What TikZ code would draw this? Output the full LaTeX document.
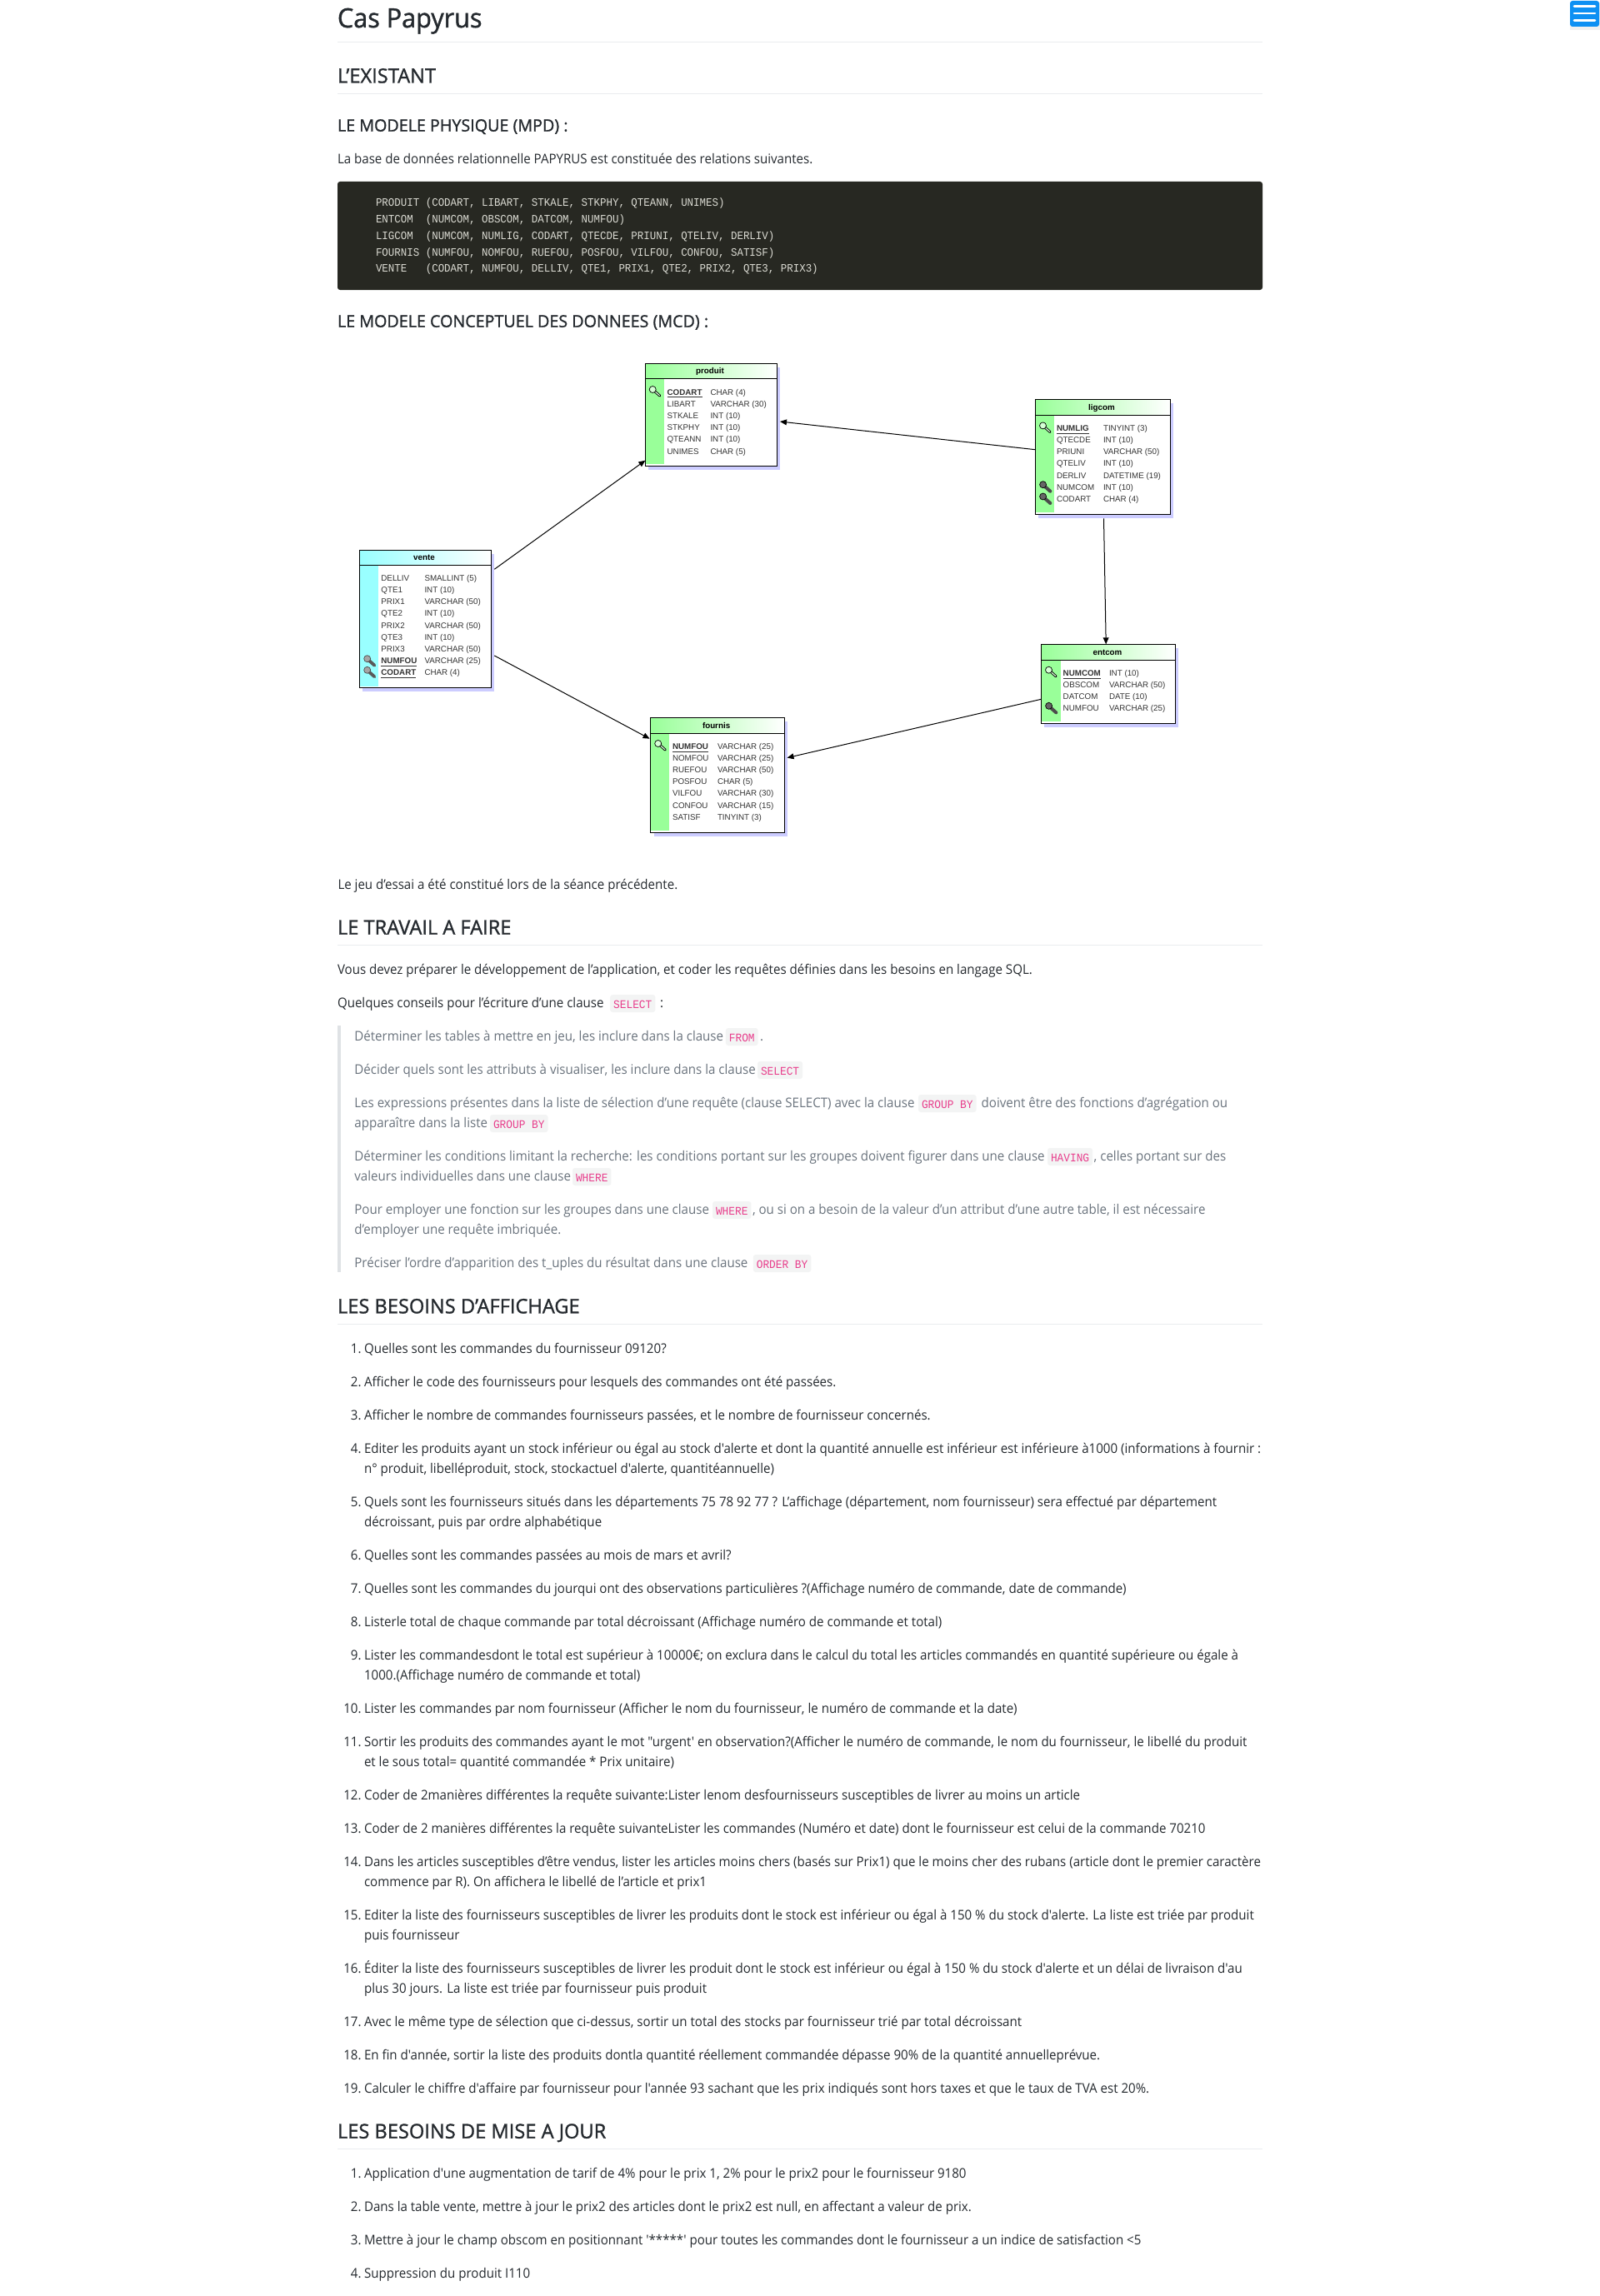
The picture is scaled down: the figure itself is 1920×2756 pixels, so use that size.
\documentclass[tikz,border=0pt]{standalone}
\usepackage{fontspec}
\usetikzlibrary{arrows.meta}
\newfontfamily\opf{Open Sans}[FakeStretch=0.943]
\newfontfamily\opfone{Open Sans}[FakeStretch=0.955,FakeBold=1.2]
\newfontfamily\opfm{Open Sans}[FakeStretch=0.985,FakeBold=1.2]
\newfontfamily\monf{Liberation Mono}[FakeStretch=0.916]
\newfontfamily\arf{Liberation Sans}
\definecolor{ink}{HTML}{24292E}
\definecolor{quoteink}{HTML}{6A737D}
\definecolor{rulegrey}{HTML}{EAECEF}
\definecolor{barbg}{HTML}{DFE2E5}
\definecolor{pinkcode}{HTML}{E83E8C}
\definecolor{pillbg}{HTML}{F3F4F4}
\definecolor{darkbox}{HTML}{272822}
\definecolor{codeink}{HTML}{DADAD2}
\definecolor{bandgreen}{HTML}{99FF99}
\definecolor{bandcyan}{HTML}{99FFFF}
\definecolor{shadowblue}{HTML}{CCCCFF}
\definecolor{burger}{HTML}{0D90F3}
\newcounter{tc}
\newcommand{\T}[4]{\stepcounter{tc}\node[#1] (t\arabic{tc}) at (#2,#3) {#4};}
\newcommand{\B}[3]{\T{bodytext}{#1}{#2}{#3}}
\newcommand{\Q}[3]{\T{quotetext}{#1}{#2}{#3}}
\newcommand{\Pl}[3]{\T{pill}{#1}{#2+1}{#3}}
\newcommand{\Li}[3]{\T{numtext}{433.6}{#2}{#1.}\T{bodytext}{437}{#2}{#3}}
\newcommand{\Lc}[2]{\T{bodytext}{437}{#1}{#2}}
\newcommand{\Hr}[1]{\draw[hrule] (405,#1) -- (1515,#1);}
\newcommand{\pk}[1]{\underline{\textbf{#1}}}
\newcommand{\Keyicon}[2]{%
  \begin{scope}[shift={(#1,#2)}]
    \draw[line width=1.5pt,draw=black,line cap=round] (4,4) -- (12.8,11.8);
    \draw[line width=0.6pt,draw=bandgreen!40!white,line cap=round] (5,5) -- (12.4,11.4);
    \filldraw[draw=black,line width=0.35pt,fill=bandgreen!40!white] (4.2,4.2) circle [radius=4];
  \end{scope}}
\newcommand{\Fkey}[2]{%
  \begin{scope}[shift={(#1,#2)}]
    \draw[line width=2pt,draw=black!70,line cap=round] (4,4) -- (13,12);
    \filldraw[draw=black,line width=0.35pt,fill=black!60] (4.3,4) circle [radius=4];
  \end{scope}}
\newcommand{\Gkey}[2]{%
  \begin{scope}[shift={(#1,#2)}]
    \draw[line width=1.9pt,draw=black!65,line cap=round] (4,4) -- (13,12);
    \filldraw[draw=black!70,line width=0.35pt,fill=black!35] (4.3,4) circle [radius=4];
  \end{scope}}
\newcommand{\Tbl}[9]{%
  \fill[shadowblue] (#2-#4+4,#3-#5+4.5) rectangle (#2+#4+3.5,#3+#5+4.5);
  \node[tablebox,minimum width=#4pt,minimum height=#5pt] (#1) at (#2,#3) {};
  \shade[left color=#9,right color=white] (#1.north west) rectangle ([shift={(0,#6)}]#1.north east);
  \fill[#9] ([shift={(0,#6)}]#1.north west) rectangle ([shift={(#7,-#8)}]#1.south west);
  \draw[tableline] (#1.north west) rectangle (#1.south east);
  \draw[tableline] ([shift={(0,#6)}]#1.north west) -- ([shift={(0,#6)}]#1.north east);}
\newcommand{\Rows}[5]{%
  \foreach \nm/\ty [count=\ri from 0] in {#5}{%
    \T{cellname}{#2}{#1+14.2*\ri}{\nm}\T{celltype}{#3}{#1+14.2*\ri}{\ty}}}
\tikzset{
  bodytext/.style={anchor=base west,inner sep=0pt,outer sep=0pt,text=ink,font=\opf\fontsize{8}{10}\selectfont},
  numtext/.style={anchor=base east,inner sep=0pt,outer sep=0pt,text=ink,font=\opf\fontsize{8}{10}\selectfont},
  quotetext/.style={anchor=base west,inner sep=0pt,outer sep=0pt,text=quoteink,font=\opf\fontsize{8}{10}\selectfont},
  hone/.style={anchor=base west,inner sep=0pt,outer sep=0pt,text=ink,font=\opfone\fontsize{16}{18}\selectfont},
  htwo/.style={anchor=base west,inner sep=0pt,outer sep=0pt,text=ink,font=\opfm\fontsize{12}{14}\selectfont},
  hthree/.style={anchor=base west,inner sep=0pt,outer sep=0pt,text=ink,font=\opfm\fontsize{10}{12}\selectfont},
  codetext/.style={anchor=base west,inner sep=0pt,outer sep=0pt,text=codeink,font=\monf\fontsize{6.8}{8}\selectfont},
  pill/.style={anchor=base west,fill=pillbg,rounded corners=1.5pt,inner xsep=2pt,inner ysep=0pt,outer sep=0pt,
    text height=8.15pt,text depth=2.35pt,text=pinkcode,font=\monf\fontsize{7}{8}\selectfont},
  hrule/.style={draw=rulegrey,line width=0.55pt},
  tablebox/.style={draw=black,fill=white,line width=0.45pt,inner sep=0pt,outer sep=0pt},
  tableline/.style={draw=black,line width=0.45pt},
  cellname/.style={anchor=base west,inner sep=0pt,outer sep=0pt,text=black!80,font=\arf\fontsize{4.9}{6}\selectfont},
  celltype/.style={anchor=base west,inner sep=0pt,outer sep=0pt,text=black!80,font=\arf\fontsize{4.9}{6}\selectfont},
  tabletitle/.style={anchor=base,inner sep=0pt,outer sep=0pt,text=black,font=\arf\bfseries\fontsize{4.9}{6}\selectfont},
  conn/.style={draw=black,line width=0.5pt,-{Triangle[length=4pt,width=3.4pt]}},
}
\begin{document}
\begin{tikzpicture}[x=0.5pt,y=-0.5pt]
\useasboundingbox (0,0) rectangle (1920,2756);
\fill[white] (0,0) rectangle (1920,2756);

% burger button
\fill[black!6] (1884,3) rectangle (1920,36);
\fill[burger,rounded corners=1.5pt] (1884,1) rectangle (1919,32);
\foreach \by in {7.3,16,24.7}{\draw[white,line width=1.3pt,line cap=round] (1889,\by) -- (1914,\by);}

% headings and top text
\T{hone}{405}{33}{Cas Papyrus}
\Hr{50.5}
\T{htwo}{405}{99.5}{L’EXISTANT}
\Hr{112.5}
\T{hthree}{405}{157.7}{LE MODELE PHYSIQUE (MPD) :}
\B{405}{196.4}{La base de données relationnelle PAPYRUS est constituée des relations suivantes.}
\fill[darkbox,rounded corners=1.5pt] (405,218) rectangle (1515,348);
\T{codetext}{451}{248}{PRODUIT (CODART, LIBART, STKALE, STKPHY, QTEANN, UNIMES)}
\T{codetext}{451}{267.7}{ENTCOM\ \ (NUMCOM, OBSCOM, DATCOM, NUMFOU)}
\T{codetext}{451}{287.4}{LIGCOM\ \ (NUMCOM, NUMLIG, CODART, QTECDE, PRIUNI, QTELIV, DERLIV)}
\T{codetext}{451}{307.1}{FOURNIS (NUMFOU, NOMFOU, RUEFOU, POSFOU, VILFOU, CONFOU, SATISF)}
\T{codetext}{451}{326.8}{VENTE\ \ \ (CODART, NUMFOU, DELLIV, QTE1, PRIX1, QTE2, PRIX2, QTE3, PRIX3)}
\T{hthree}{405}{392.7}{LE MODELE CONCEPTUEL DES DONNEES (MCD) :}

% tables
\Tbl{produit}{853.4}{498}{79}{61.3}{17.6}{22.6}{2.6}{bandgreen}
\T{tabletitle}{852}{448.7}{produit}
\Keyicon{779}{463.3}
\Rows{474}{800.6}{852.5}{}{\pk{CODART}/CHAR (4),LIBART/VARCHAR (30),STKALE/INT (10),STKPHY/INT (10),QTEANN/INT (10),UNIMES/CHAR (5)}

\Tbl{ligcom}{1323.35}{548.3}{81.05}{69}{19}{22.5}{2.3}{bandgreen}
\T{tabletitle}{1322}{492}{ligcom}
\Keyicon{1247.3}{506.7}
\Fkey{1247.3}{577.7}
\Fkey{1247.3}{592}
\Rows{517.3}{1268}{1324}{}{\pk{NUMLIG}/TINYINT (3),QTECDE/INT (10),PRIUNI/VARCHAR (50),QTELIV/INT (10),DERLIV/DATETIME (19),NUMCOM/INT (10),CODART/CHAR (4)}

\Tbl{entcom}{1329.95}{820.65}{80.55}{47.35}{19}{23.6}{2}{bandgreen}
\T{tabletitle}{1329}{786}{entcom}
\Keyicon{1254.3}{800}
\Fkey{1254.3}{843.3}
\Rows{811.3}{1275.7}{1331}{}{\pk{NUMCOM}/INT (10),OBSCOM/VARCHAR (50),DATCOM/DATE (10),NUMFOU/VARCHAR (25)}

\Tbl{fournis}{860.8}{930.35}{80.2}{68.65}{18.6}{22.4}{2.3}{bandgreen}
\T{tabletitle}{859.6}{874}{fournis}
\Keyicon{785.5}{888.3}
\Rows{899}{807}{861}{}{\pk{NUMFOU}/VARCHAR (25),NOMFOU/VARCHAR (25),RUEFOU/VARCHAR (50),POSFOU/CHAR (5),VILFOU/VARCHAR (30),CONFOU/VARCHAR (15),SATISF/TINYINT (3)}

\Tbl{vente}{510.6}{742.8}{79.2}{82.5}{18}{22.6}{1.3}{bandcyan}
\T{tabletitle}{509}{672}{vente}
\Gkey{436.4}{786.7}
\Gkey{436.4}{800.3}
\Rows{697.3}{457.4}{509.5}{}{DELLIV/SMALLINT (5),QTE1/INT (10),PRIX1/VARCHAR (50),QTE2/INT (10),PRIX2/VARCHAR (50),QTE3/INT (10),PRIX3/VARCHAR (50),\pk{NUMFOU}/VARCHAR (25),\pk{CODART}/CHAR (4)}

% connectors
\draw[conn] ([shift={(3.5,23)}]vente.north east) -- ([shift={(0,-6.6)}]produit.south west);
\draw[conn] ([shift={(0,60.4)}]ligcom.north west) -- ([shift={(3.6,69.3)}]produit.north east);
\draw[conn] ([shift={(82.2,5)}]ligcom.south west) -- ([shift={(77.8,0)}]entcom.north west);
\draw[conn] ([shift={(0,66)}]entcom.north west) -- ([shift={(3.5,47.9)}]fournis.north east);
\draw[conn] ([shift={(3.5,126.7)}]vente.north east) -- ([shift={(-1,25)}]fournis.north west);

% travail a faire
\B{405.5}{1067.3}{Le jeu d’essai a été constitué lors de la séance précédente.}
\T{htwo}{405}{1121.7}{LE TRAVAIL A FAIRE}
\Hr{1134.3}
\B{405}{1169.3}{Vous devez préparer le développement de l’application, et coder les requêtes définies dans les besoins en langage SQL.}
\B{405}{1209.3}{Quelques conseils pour l’écriture d’une clause}
\Pl{732.2}{1209.3}{SELECT}
\B{792}{1209.3}{:}
\fill[barbg] (405,1231) rectangle (409,1527);
\Q{425.4}{1249.3}{Déterminer les tables à mettre en jeu, les inclure dans la clause}
\Pl{870.9}{1249.3}{FROM}
\Q{912}{1249.3}{.}
\Q{425.4}{1289.3}{Décider quels sont les attributs à visualiser, les inclure dans la clause}
\Pl{909}{1289.3}{SELECT}
\Q{425.4}{1329.3}{Les expressions présentes dans la liste de sélection d’une requête (clause SELECT) avec la clause}
\Pl{1102}{1329.3}{GROUP BY}
\Q{1177.7}{1329.3}{doivent être des fonctions d’agrégation ou}
\Q{425.4}{1353.3}{apparaître dans la liste}
\Pl{588}{1353.3}{GROUP BY}
\Q{425.4}{1393.3}{Déterminer les conditions limitant la recherche: les conditions portant sur les groupes doivent figurer dans une clause}
\Pl{1257}{1393.3}{HAVING}
\Q{1312.7}{1393.3}{, celles portant sur des}
\Q{425.4}{1417.3}{valeurs individuelles dans une clause}
\Pl{687}{1417.3}{WHERE}
\Q{425.4}{1457.3}{Pour employer une fonction sur les groupes dans une clause}
\Pl{855}{1457.3}{WHERE}
\Q{903}{1457.3}{, ou si on a besoin de la valeur d’un attribut d’une autre table, il est nécessaire}
\Q{425.4}{1481.3}{d’employer une requête imbriquée.}
\Q{425.4}{1521.3}{Préciser l’ordre d’apparition des t\_uples du résultat dans une clause}
\Pl{903.8}{1521.3}{ORDER BY}

% besoins d'affichage
\T{htwo}{405}{1576.4}{LES BESOINS D’AFFICHAGE}
\Hr{1589.4}
\Li{1}{1624.3}{Quelles sont les commandes du fournisseur 09120?}
\Li{2}{1664.3}{Afficher le code des fournisseurs pour lesquels des commandes ont été passées.}
\Li{3}{1704.3}{Afficher le nombre de commandes fournisseurs passées, et le nombre de fournisseur concernés.}
\Li{4}{1744.3}{Editer les produits ayant un stock inférieur ou égal au stock d'alerte et dont la quantité annuelle est inférieur est inférieure à1000 (informations à fournir :}
\Lc{1768.3}{n° produit, libelléproduit, stock, stockactuel d'alerte, quantitéannuelle)}
\Li{5}{1808.3}{Quels sont les fournisseurs situés dans les départements 75 78 92 77 ? L’affichage (département, nom fournisseur) sera effectué par département}
\Lc{1832.3}{décroissant, puis par ordre alphabétique}
\Li{6}{1872.3}{Quelles sont les commandes passées au mois de mars et avril?}
\Li{7}{1912.3}{Quelles sont les commandes du jourqui ont des observations particulières ?(Affichage numéro de commande, date de commande)}
\Li{8}{1952.3}{Listerle total de chaque commande par total décroissant (Affichage numéro de commande et total)}
\Li{9}{1992.3}{Lister les commandesdont le total est supérieur à 10000€; on exclura dans le calcul du total les articles commandés en quantité supérieure ou égale à}
\Lc{2016.3}{1000.(Affichage numéro de commande et total)}
\Li{10}{2056.3}{Lister les commandes par nom fournisseur (Afficher le nom du fournisseur, le numéro de commande et la date)}
\Li{11}{2096.3}{Sortir les produits des commandes ayant le mot "urgent' en observation?(Afficher le numéro de commande, le nom du fournisseur, le libellé du produit}
\Lc{2120.3}{et le sous total= quantité commandée * Prix unitaire)}
\Li{12}{2160.3}{Coder de 2manières différentes la requête suivante:Lister lenom desfournisseurs susceptibles de livrer au moins un article}
\Li{13}{2200.3}{Coder de 2 manières différentes la requête suivanteLister les commandes (Numéro et date) dont le fournisseur est celui de la commande 70210}
\Li{14}{2240.3}{Dans les articles susceptibles d’être vendus, lister les articles moins chers (basés sur Prix1) que le moins cher des rubans (article dont le premier caractère}
\Lc{2264.3}{commence par R). On affichera le libellé de l’article et prix1}
\Li{15}{2304.3}{Editer la liste des fournisseurs susceptibles de livrer les produits dont le stock est inférieur ou égal à 150 \% du stock d'alerte. La liste est triée par produit}
\Lc{2328.3}{puis fournisseur}
\Li{16}{2368.3}{Éditer la liste des fournisseurs susceptibles de livrer les produit dont le stock est inférieur ou égal à 150 \% du stock d'alerte et un délai de livraison d'au}
\Lc{2392.3}{plus 30 jours. La liste est triée par fournisseur puis produit}
\Li{17}{2432.3}{Avec le même type de sélection que ci-dessus, sortir un total des stocks par fournisseur trié par total décroissant}
\Li{18}{2472.3}{En fin d'année, sortir la liste des produits dontla quantité réellement commandée dépasse 90\% de la quantité annuelleprévue.}
\Li{19}{2512.3}{Calculer le chiffre d'affaire par fournisseur pour l'année 93 sachant que les prix indiqués sont hors taxes et que le taux de TVA est 20\%.}

% mise a jour
\T{htwo}{405}{2566.7}{LES BESOINS DE MISE A JOUR}
\Hr{2579.5}
\Li{1}{2614.3}{Application d'une augmentation de tarif de 4\% pour le prix 1, 2\% pour le prix2 pour le fournisseur 9180}
\Li{2}{2654.3}{Dans la table vente, mettre à jour le prix2 des articles dont le prix2 est null, en affectant a valeur de prix.}
\Li{3}{2694.3}{Mettre à jour le champ obscom en positionnant '*****' pour toutes les commandes dont le fournisseur a un indice de satisfaction <5}
\Li{4}{2734.3}{Suppression du produit I110}
\end{tikzpicture}
\end{document}
